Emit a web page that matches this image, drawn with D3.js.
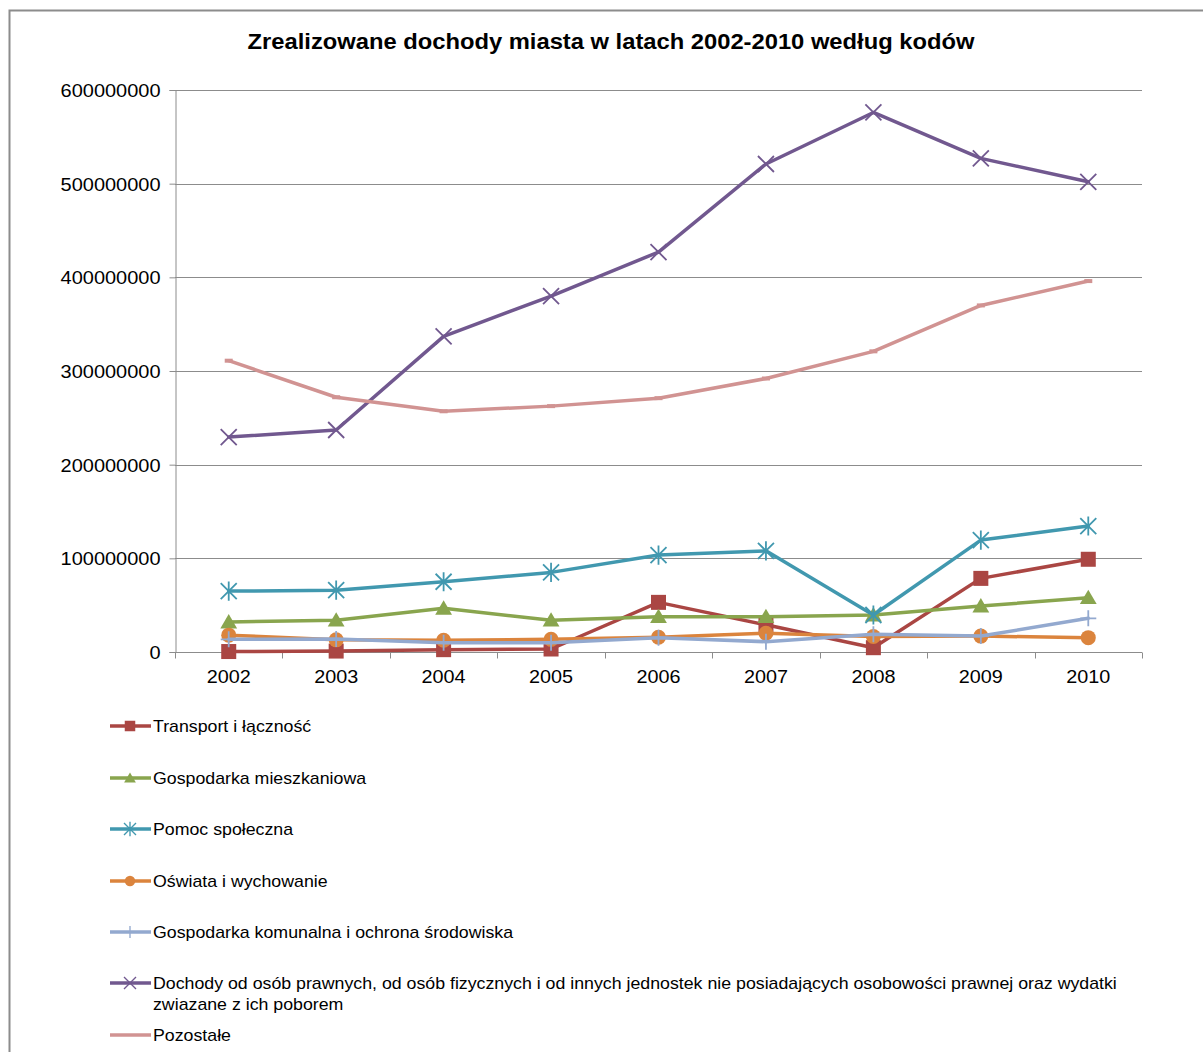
<!DOCTYPE html>
<html>
<head>
<meta charset="utf-8">
<script src="https://cdn.jsdelivr.net/npm/d3@7"></script>
<style>
  html, body { margin: 0; padding: 0; background: #fff; }
  svg { display: block; font-family: "Liberation Sans", Arial, sans-serif; }
</style>
</head>
<body>
<svg id="chart" width="1203" height="1052"></svg>
<script>
// Years on the category axis
const years = ["2002", "2003", "2004", "2005", "2006", "2007", "2008", "2009", "2010"];

// Realized income per budget section (PLN)
const transport   = [500000, 1000000, 2500000, 3200000, 53000000, 29000000, 4600000, 78600000, 99000000];
const mieszkaniowa = [32000000, 34000000, 46600000, 34000000, 37700000, 37700000, 39500000, 49000000, 58000000];
const pomoc       = [65000000, 66000000, 75000000, 85000000, 103500000, 108000000, 39500000, 119500000, 134500000];
const oswiata     = [18000000, 13000000, 12500000, 13500000, 15700000, 20000000, 16500000, 17000000, 15300000];
const komunalna   = [13500000, 14000000, 10000000, 10000000, 15300000, 11000000, 19000000, 17000000, 36000000];
const dochody     = [229500000, 237000000, 337000000, 380000000, 427000000, 521000000, 576000000, 527000000, 502000000];
const pozostale   = [311000000, 272000000, 257000000, 262500000, 271000000, 292000000, 321000000, 370000000, 396000000];

const yTicks = [0, 100000000, 200000000, 300000000, 400000000, 500000000, 600000000];

const series = [
  { name: "Transport i łączność", values: transport, color: "#AA4643", marker: "square" },
  { name: "Gospodarka mieszkaniowa", values: mieszkaniowa, color: "#89A54E", marker: "triangle" },
  { name: "Pomoc społeczna", values: pomoc, color: "#4198AF", marker: "star" },
  { name: "Oświata i wychowanie", values: oswiata, color: "#DB843D", marker: "circle" },
  { name: "Gospodarka komunalna i ochrona środowiska", values: komunalna, color: "#93A9CF", marker: "plus" },
  { name: ["Dochody od osób prawnych, od osób fizycznych i od innych jednostek nie posiadających osobowości prawnej oraz wydatki", "zwiazane z ich poborem"], values: dochody, color: "#71588F", marker: "cross" },
  { name: "Pozostałe", values: pozostale, color: "#D19392", marker: "dash" }
];

const svg = d3.select("#chart");

// Text helper: places text at (x, y) with a horizontal widening factor
function wideText(g, x, y, str, size, sx, anchor, weight) {
  return g.append("text")
    .attr("transform", `translate(${x},${y}) scale(${sx},1)`)
    .attr("text-anchor", anchor || "start")
    .attr("font-size", size)
    .attr("font-weight", weight || "normal")
    .attr("fill", "#000")
    .text(str);
}

// Chart frame
svg.append("path")
  .attr("d", "M9.5,1052 L9.5,10.5 L1203,10.5")
  .attr("fill", "none").attr("stroke", "#8c8c8c").attr("stroke-width", 2);

// Title
wideText(svg, 611, 49, "Zrealizowane dochody miasta w latach 2002-2010 według kodów", 22, 1.08, "middle", "bold");

const plot = { left: 175, right: 1142, top: 90, bottom: 652 };

const x = d3.scaleBand().domain(years).range([plot.left, plot.right]);
const y = d3.scaleLinear().domain([0, 600000000]).range([plot.bottom, plot.top]);

// Horizontal gridlines
svg.append("g").selectAll("line").data(yTicks.filter(d => d > 0)).join("line")
  .attr("x1", plot.left).attr("x2", plot.right)
  .attr("y1", d => Math.round(y(d)) + 0.5).attr("y2", d => Math.round(y(d)) + 0.5)
  .attr("stroke", "#8c8c8c").attr("stroke-width", 1);

// Y axis: d3 axis for domain and ticks, labels redrawn slightly wider
const yAxis = svg.append("g")
  .attr("transform", `translate(${plot.left + 0.5},0)`)
  .call(d3.axisLeft(y).tickValues(yTicks).tickSize(6).tickFormat(d3.format("d")));
yAxis.select(".domain").attr("stroke", "#8c8c8c");
yAxis.selectAll(".tick line").attr("stroke", "#8c8c8c");
yAxis.selectAll(".tick text").remove();
yAxis.selectAll(".tick").each(function (d) {
  wideText(d3.select(this), -15, 6.5, d3.format("d")(d), 18, 1.11, "end");
});

// X axis with ticks between categories
const xAxisG = svg.append("g").attr("transform", `translate(0,${Math.round(y(0)) + 0.5})`);
xAxisG.append("line").attr("x1", plot.left).attr("x2", plot.right)
  .attr("stroke", "#8c8c8c");
const bounds = years.map(d => x(d)).concat([plot.right]);
xAxisG.selectAll("line.tk").data(bounds).join("line").attr("class", "tk")
  .attr("x1", d => Math.round(d) + 0.5).attr("x2", d => Math.round(d) + 0.5)
  .attr("y1", 0).attr("y2", 6).attr("stroke", "#8c8c8c");
years.forEach(d => {
  wideText(xAxisG, x(d) + x.bandwidth() / 2, 30, d, 18, 1.1, "middle");
});

// Marker drawing
function drawMarker(g, type, color, cx, cy, scale) {
  const s = scale || 1;
  if (type === "square") {
    const h = 7.5 * s;
    g.append("rect").attr("x", cx - h).attr("y", cy - h).attr("width", 2 * h).attr("height", 2 * h)
      .attr("fill", color);
  } else if (type === "triangle") {
    const h = 8 * s;
    g.append("path").attr("d", `M${cx},${cy - h} L${cx + h * 1.05},${cy + h * 0.8} L${cx - h * 1.05},${cy + h * 0.8} Z`)
      .attr("fill", color);
  } else if (type === "circle") {
    g.append("circle").attr("cx", cx).attr("cy", cy).attr("r", 7.5 * s).attr("fill", color);
  } else if (type === "star") {
    const h = 8 * s;
    g.append("path").attr("d",
      `M${cx - h},${cy - h} L${cx + h},${cy + h} M${cx - h},${cy + h} L${cx + h},${cy - h} M${cx},${cy - h * 1.2} L${cx},${cy + h * 1.2}`)
      .attr("stroke", color).attr("stroke-width", 1.8 * s).attr("fill", "none");
  } else if (type === "cross") {
    const h = 8 * s;
    g.append("path").attr("d", `M${cx - h},${cy - h} L${cx + h},${cy + h} M${cx - h},${cy + h} L${cx + h},${cy - h}`)
      .attr("stroke", color).attr("stroke-width", 1.8 * s).attr("fill", "none");
  } else if (type === "plus") {
    const h = 8 * s;
    g.append("path").attr("d", `M${cx - h},${cy} L${cx + h},${cy} M${cx},${cy - h} L${cx},${cy + h}`)
      .attr("stroke", color).attr("stroke-width", 1.8 * s).attr("fill", "none");
  } else if (type === "dash") {
    g.append("rect").attr("x", cx - 4 * s).attr("y", cy - 2 * s).attr("width", 8 * s).attr("height", 4 * s)
      .attr("fill", color);
  }
}

const line = d3.line()
  .x((d, i) => x(years[i]) + x.bandwidth() / 2)
  .y(d => y(d));

// Draw series lines and markers
const seriesG = svg.append("g");
series.forEach(s => {
  const g = seriesG.append("g");
  g.append("path").datum(s.values)
    .attr("d", line)
    .attr("fill", "none").attr("stroke", s.color).attr("stroke-width", 3.5)
    .attr("stroke-linejoin", "round").attr("stroke-linecap", "round");
  s.values.forEach((v, i) => {
    drawMarker(g, s.marker, s.color, x(years[i]) + x.bandwidth() / 2, y(v), 1);
  });
});

// Legend
const legendRows = [726, 778, 829, 881, 932, 983, 1035];
const legend = svg.append("g");
series.forEach((s, i) => {
  const ly = legendRows[i];
  legend.append("line").attr("x1", 110).attr("x2", 151).attr("y1", ly).attr("y2", ly)
    .attr("stroke", s.color).attr("stroke-width", 3.5);
  if (s.marker !== "dash") drawMarker(legend, s.marker, s.color, 130, ly, s.marker === "star" || s.marker === "cross" || s.marker === "plus" ? 0.75 : 0.7);
  const lines = Array.isArray(s.name) ? s.name : [s.name];
  lines.forEach((t, j) => {
    wideText(legend, 153, ly + 6 + j * 21, t, 16, 1.11, "start");
  });
});
</script>
</body>
</html>
